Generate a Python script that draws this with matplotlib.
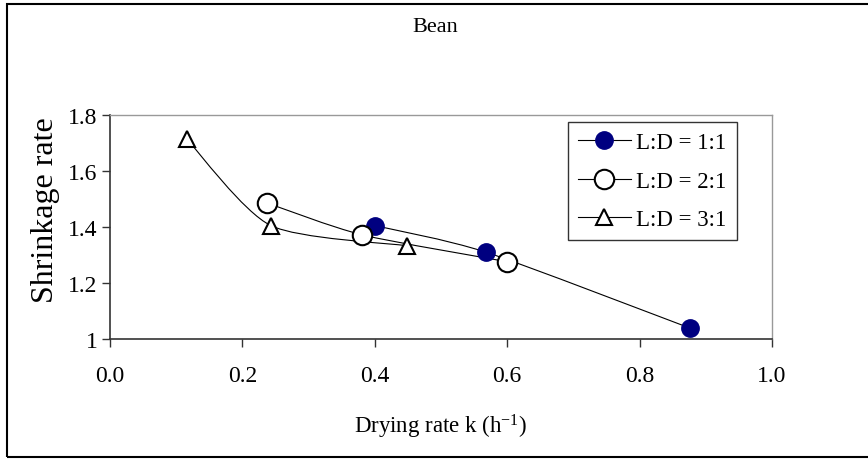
import numpy as np
import matplotlib
matplotlib.use("Agg")
import matplotlib.pyplot as plt
from matplotlib.path import Path
from matplotlib.patches import PathPatch, Rectangle
from matplotlib.lines import Line2D
from matplotlib.ticker import FuncFormatter, MultipleLocator

plt.rcParams['font.family'] = ['Liberation Serif', 'DejaVu Serif']
plt.rcParams['mathtext.fontset'] = 'custom'
plt.rcParams['mathtext.rm'] = 'Liberation Serif'
plt.rcParams['mathtext.it'] = 'Liberation Serif:italic'

# data
labels = ["L:D = 1:1", "L:D = 2:1", "L:D = 3:1"]
k_11 = [0.40, 0.568, 0.876]
s_11 = [1.405, 1.31, 1.039]
k_21 = [0.237, 0.381, 0.600]
s_21 = [1.486, 1.372, 1.276]
k_31 = [0.116, 0.243, 0.449]
s_31 = [1.714, 1.405, 1.333]


def smooth_path(x, y, t=1 / 8.0):
    # Excel style smoothed line: cubic bezier through the points
    p = np.column_stack([x, y])
    n = len(p)
    verts = [p[0]]
    codes = [Path.MOVETO]
    for i in range(n - 1):
        p0 = p[i - 1] if i > 0 else p[i]
        p3 = p[i + 2] if i + 2 < n else p[i + 1]
        c1 = p[i] + (p[i + 1] - p0) * t
        c2 = p[i + 1] - (p3 - p[i]) * t
        verts += [c1, c2, p[i + 1]]
        codes += [Path.CURVE4] * 3
    return Path(verts, codes)


fig = plt.figure(figsize=(8.68, 4.6), dpi=100)
ax = fig.add_axes([110 / 868, 1 - 340 / 460, 662 / 868, 224 / 460])

styles = [
    dict(marker='o', markersize=12.5, markerfacecolor='#000080', markeredgecolor='#000080'),
    dict(marker='o', markersize=14, markerfacecolor='white', markeredgecolor='black', markeredgewidth=1.5),
    dict(marker='^', markersize=12, markerfacecolor='white', markeredgecolor='black', markeredgewidth=1.5),
]
series = [(k_11, s_11), (k_21, s_21), (k_31, s_31)]

handles = []
for (x, y), st, lab in zip(series, styles, labels):
    ax.add_patch(PathPatch(smooth_path(x, y), facecolor='none', edgecolor='black', lw=0.8, zorder=2))
    ax.plot(x, y, linestyle='none', zorder=3, **st)
    handles.append(Line2D([], [], color='black', lw=0.8, **st))

ax.set_xlim(0, 1.0)
ax.set_ylim(1, 1.8)
ax.xaxis.set_major_locator(MultipleLocator(0.2))
ax.yaxis.set_major_locator(MultipleLocator(0.2))
ax.xaxis.set_major_formatter(FuncFormatter(lambda v, p: f"{v:.1f}"))
ax.yaxis.set_major_formatter(FuncFormatter(lambda v, p: f"{v:g}"))
ax.tick_params(axis='both', direction='out', length=6, width=1, labelsize=17, color='#333333')
ax.tick_params(axis='x', pad=13)
ax.tick_params(axis='y', pad=3)

for s in ['left', 'bottom']:
    ax.spines[s].set_color('#333333')
    ax.spines[s].set_linewidth(1.2)
for s in ['top', 'right']:
    ax.spines[s].set_color('#999999')
    ax.spines[s].set_linewidth(1.0)

ax.set_xlabel("Drying rate k (h$^{\\mathrm{-1}}$)", fontsize=16.5, labelpad=18)
ax.set_ylabel("Shrinkage rate", fontsize=23)
ax.yaxis.set_label_coords(-0.076, 0.58)

leg = ax.legend(handles, labels, loc='upper right', bbox_to_anchor=(0.947, 0.969),
                borderaxespad=0, fontsize=16.5, fancybox=False, edgecolor='#333333',
                framealpha=1, handlelength=2.3, labelspacing=0.75, borderpad=0.45,
                handletextpad=0.25)
leg.get_frame().set_linewidth(1.0)

fig.text(435 / 868, 1 - 28 / 460, "Bean", ha='center', va='center', fontsize=16)

# outer chart frame
fig.patches.append(Rectangle((7 / 868, 2 / 460), 1.0, 453 / 460, transform=fig.transFigure,
                             fill=False, edgecolor='black', lw=1.5))

fig.savefig("out.png", dpi=100)
